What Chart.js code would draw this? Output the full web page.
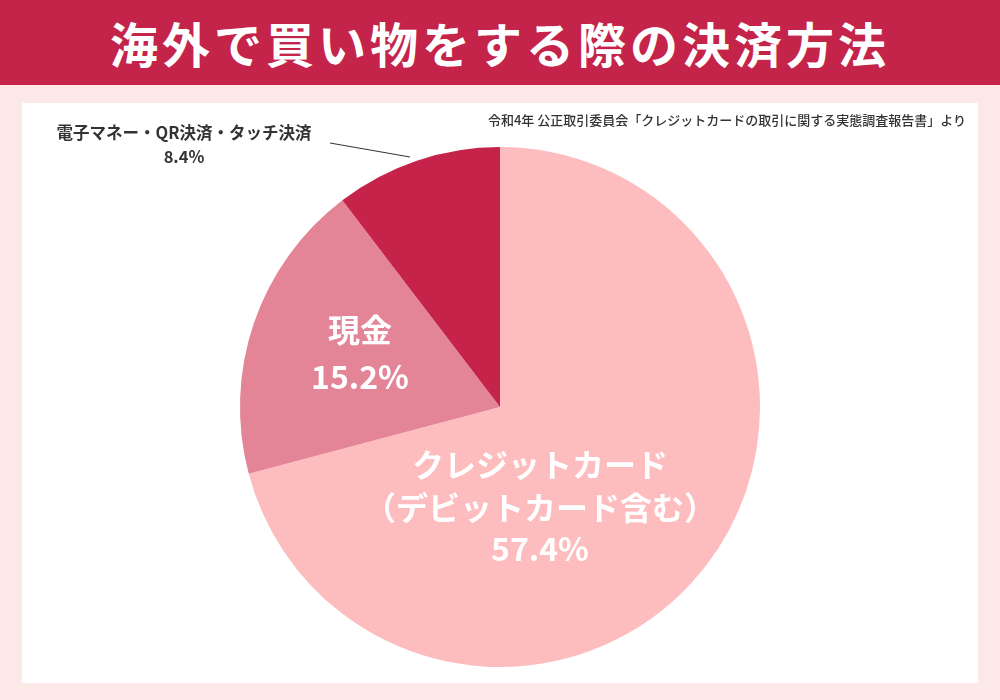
<!DOCTYPE html>
<html><head><meta charset="utf-8">
<script src="https://cdn.jsdelivr.net/npm/chart.js@4"></script>
<style>
body{margin:0;width:1000px;height:700px;background:#fde8e8;font-family:"Noto Sans CJK JP",sans-serif;position:relative;overflow:hidden}
#title{position:absolute;left:0;top:0;width:1000px;height:85px;background:#c4234a;color:#fff;font-size:48px;font-weight:bold;text-align:center;line-height:85px;letter-spacing:4px}
#panel{position:absolute;left:22px;top:103px;width:956px;height:580px;background:#fff}
#src{position:absolute;right:12px;top:7px;font-size:13px;font-weight:500;color:#333}
#wrap{position:absolute;left:0;top:0;width:956px;height:580px}
</style></head><body>
<div id="title">海外で買い物をする際の決済方法</div>
<div id="panel"><div id="wrap"><canvas id="c"></canvas></div>
<div id="src">令和4年 公正取引委員会「クレジットカードの取引に関する実態調査報告書」より</div></div>
<script>
const categories=["クレジットカード（デビットカード含む）","現金","電子マネー・QR決済・タッチ決済"];
const values=[57.4,15.2,8.4];
const colors=["#fdbcbe","#e38497","#c5234a"];
const labelPlugin={id:'lbl',afterDraw(ch){
 const ctx=ch.ctx;
 ctx.save();ctx.textAlign='center';ctx.textBaseline='middle';
 const f='"Noto Sans CJK JP",sans-serif';
 ctx.fillStyle='#fff';ctx.font='bold 32px '+f;
 ctx.fillText('クレジットカード',518,465-103);
 ctx.fillText('（デビットカード含む）',518,508-103);
 ctx.fillText(values[0]+'%',518,549-103);
 ctx.fillText('現金',338,330-103);
 ctx.fillText(values[1]+'%',338,377-103);
 ctx.fillStyle='#333';ctx.font='bold 16.5px '+f;
 ctx.fillText('電子マネー・QR決済・タッチ決済',162,133-103);
 ctx.fillText(values[2]+'%',162,157-103);
 ctx.strokeStyle='#333';ctx.lineWidth=1;ctx.beginPath();ctx.moveTo(308,143-103);ctx.lineTo(388,157-103);ctx.stroke();
 ctx.restore();}};
new Chart(document.getElementById('c'),{type:'pie',
data:{labels:categories,datasets:[{data:values,backgroundColor:colors,borderWidth:0}]},
options:{responsive:true,maintainAspectRatio:false,animation:false,layout:{padding:{top:44,bottom:16}},
plugins:{legend:{display:false},tooltip:{enabled:false}}},plugins:[labelPlugin]});
</script></body></html>
